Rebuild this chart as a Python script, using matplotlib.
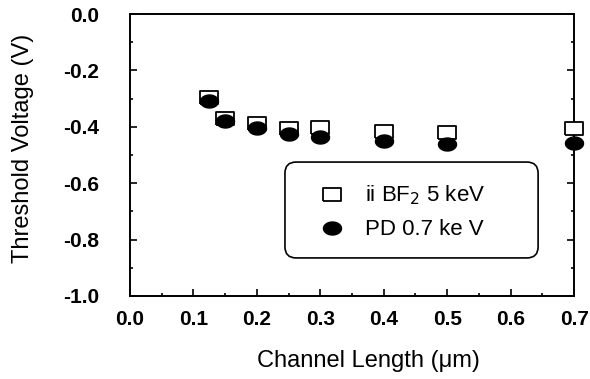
import matplotlib
matplotlib.use("Agg")
import numpy as np
import matplotlib.pyplot as plt
from matplotlib.patches import FancyBboxPatch
from matplotlib.ticker import MultipleLocator

plt.rcParams["font.family"] = ["Liberation Sans", "DejaVu Sans"]

# channel length (um) and threshold voltage (V)
length = [0.125, 0.15, 0.2, 0.25, 0.3, 0.4, 0.5, 0.7]
vt_bf2 = [-0.295, -0.37, -0.385, -0.405, -0.40, -0.415, -0.42, -0.405]
vt_pd = [-0.31, -0.38, -0.405, -0.425, -0.435, -0.45, -0.46, -0.457]

x_ticks = [0.0, 0.1, 0.2, 0.3, 0.4, 0.5, 0.6, 0.7]
y_ticks = [0.0, -0.2, -0.4, -0.6, -0.8, -1.0]

# markers in the scan are a bit wider than tall
sq_marker = [(-1, -0.72), (1, -0.72), (1, 0.72), (-1, 0.72), (-1, -0.72)]
t = np.linspace(0, 2 * np.pi, 41)
el_marker = list(zip(np.cos(t), 0.72 * np.sin(t)))

fig = plt.figure(figsize=(5.9, 3.79), dpi=100)
ax = fig.add_axes([0.2203, 0.219, 0.7527, 0.744])

ax.plot(length, vt_bf2, ls="none", marker=sq_marker, ms=13, mfc="white", mec="black",
        mew=1.3, label=r"ii BF$_2$ 5 keV", zorder=3, clip_on=False)
ax.plot(length, vt_pd, ls="none", marker=el_marker, ms=13, mfc="black", mec="black",
        label="PD 0.7 ke V", zorder=4, clip_on=False)

ax.set_xlim(0.0, 0.7)
ax.set_ylim(-1.0, 0.0)
ax.set_xticks(x_ticks)
ax.set_xticklabels([f"{v:.1f}" for v in x_ticks], fontweight="bold", fontsize=15)
ax.set_yticks(y_ticks)
ax.set_yticklabels([f"{v:.1f}" for v in y_ticks], fontweight="bold", fontsize=15)
ax.xaxis.set_minor_locator(MultipleLocator(0.05))
ax.yaxis.set_minor_locator(MultipleLocator(0.1))
ax.tick_params(which="both", direction="in", right=True, top=False, width=1.2)
ax.tick_params(which="major", length=5)
ax.tick_params(which="minor", length=2.5)
ax.tick_params(axis="x", pad=10)
ax.tick_params(axis="y", pad=22)
for s in ax.spines.values():
    s.set_linewidth(1.4)

ax.set_xlabel("Channel Length (\u03bcm)", fontsize=17)
ax.set_ylabel("Threshold Voltage (V)", fontsize=17)
ax.xaxis.set_label_coords(0.536, -0.19)
ax.yaxis.set_label_coords(-0.215, 0.525)

# rounded legend frame drawn separately
frame = FancyBboxPatch((0.349, 0.135), 0.57, 0.34, transform=ax.transAxes,
                       boxstyle="round,pad=0,rounding_size=0.025",
                       mutation_aspect=444 / 282, fc="white", ec="black", lw=1.2,
                       zorder=5)
ax.add_patch(frame)
leg = ax.legend(loc="center left", bbox_to_anchor=(0.43, 0.298), fontsize=16,
                frameon=False, borderpad=0, borderaxespad=0, handlelength=1.0,
                handletextpad=1.0, labelspacing=0.55)
leg.set_zorder(6)

fig.savefig("out.png", dpi=100)
